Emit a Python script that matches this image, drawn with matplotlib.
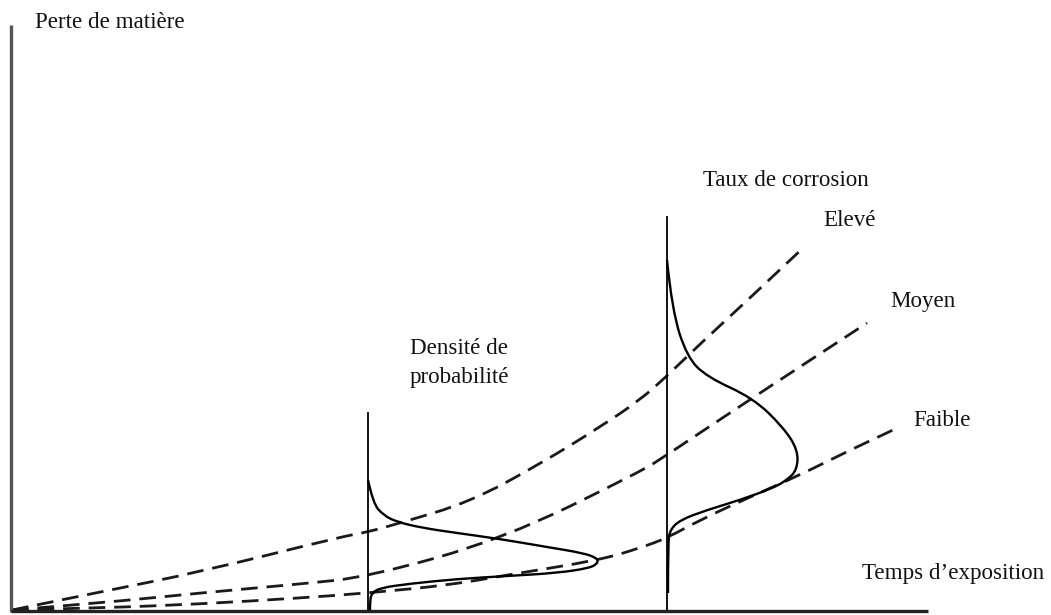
import matplotlib.pyplot as plt
from matplotlib.path import Path
from matplotlib.patches import PathPatch

# ---------------- DATA (time, material loss) ----------------
# dashed growth curves, one per corrosion rate
eleve_t = [0, 88, 188, 328, 356, 388, 458, 528, 588, 628, 655, 688, 738, 791]
eleve_v = [0, 18, 38, 73, 78, 87, 108, 146, 183, 210, 234, 266, 312, 362]

moyen_t = [0, 88, 188, 288, 356, 491, 628, 655, 740, 855]
moyen_v = [0, 7, 17, 26, 33, 71, 138, 155, 212, 287]

faible_t = [0, 88, 188, 288, 356, 438, 495, 588, 628, 655, 688, 738, 788, 838, 881]
faible_v = [0, 2, 6, 12, 17, 25, 35, 50, 62, 72, 90, 113, 135, 160, 180]

# probability density at the first time
d1_t0 = 356
d1_dens = [0, 5, 15, 29, 55, 89, 132, 179, 215, 229, 230, 222, 189, 139, 89, 39, 12, 4, 2, 2]
d1_v = [130, 107, 95, 88, 82, 77, 71, 63, 57, 52, 47, 42, 37, 34, 31, 26, 22, 17, 10, 0]
d1_top = 197

# probability density at the second time
d2_t0 = 655
d2_dens = [0, 5, 20, 40, 86, 116, 131, 130, 120, 106, 73, 40, 13, 3, 1, 1]
d2_v = [350, 300, 253, 233, 212, 183, 160, 140, 130, 122, 110, 100, 90, 80, 67, 17]
d2_top = 393


def smooth_path(xs, ys):
    # quadratic bezier through midpoints -> smooth line drawn by the Path renderer
    pts = list(zip(xs, ys))
    verts = [pts[0]]
    codes = [Path.MOVETO]
    for i in range(1, len(pts) - 1):
        mid = ((pts[i][0] + pts[i + 1][0]) / 2, (pts[i][1] + pts[i + 1][1]) / 2)
        if i == len(pts) - 2:
            mid = pts[-1]
        verts += [pts[i], mid]
        codes += [Path.CURVE3, Path.CURVE3]
    return Path(verts, codes)


# ---------------- FIGURE ----------------
plt.rcParams['font.family'] = ['Liberation Serif', 'DejaVu Serif']
fig = plt.figure(figsize=(10.51, 6.15), dpi=100)
ax = fig.add_axes([0, 0, 1, 1])
ax.set_xlim(-12, 1039)
ax.set_ylim(-5, 610)
ax.axis("off")

# axes lines
ax.plot([-1, -1], [-2, 585], color="#555555", lw=2.4, solid_capstyle="butt")
ax.plot([-1, 916], [-1, -1], color="#222222", lw=2.4, solid_capstyle="butt")

for t, v in [(eleve_t, eleve_v), (moyen_t, moyen_v), (faible_t, faible_v)]:
    ax.add_patch(PathPatch(smooth_path(t, v), fill=False, edgecolor="#1a1a1a",
                           lw=2.0, linestyle=(0, (6, 3.2))))

# density curves with their vertical baselines
ax.plot([d1_t0, d1_t0], [0, d1_top], color="black", lw=1.3)
ax.add_patch(PathPatch(smooth_path([d1_t0 + d for d in d1_dens], d1_v),
                       fill=False, edgecolor="black", lw=1.7))
ax.plot([d2_t0, d2_t0], [0, d2_top], color="black", lw=1.3)
ax.add_patch(PathPatch(smooth_path([d2_t0 + d for d in d2_dens], d2_v),
                       fill=False, edgecolor="black", lw=1.7))

# ---------------- LABELS ----------------
txt = dict(fontsize=16.6, color="#111111", ha="left", va="center")
ax.text(23, 588, "Perte de matière", **txt)
ax.text(691, 430, "Taux de corrosion", **txt)
ax.text(811, 390, "Elevé", **txt)
ax.text(878, 308, "Moyen", **txt)
ax.text(901, 190, "Faible", **txt)
ax.text(398, 262, "Densité de", **txt)
ax.text(398, 233, "probabilité", **txt)
ax.text(850, 37, "Temps d’exposition", **txt)

fig.savefig("out.png", dpi=100)
